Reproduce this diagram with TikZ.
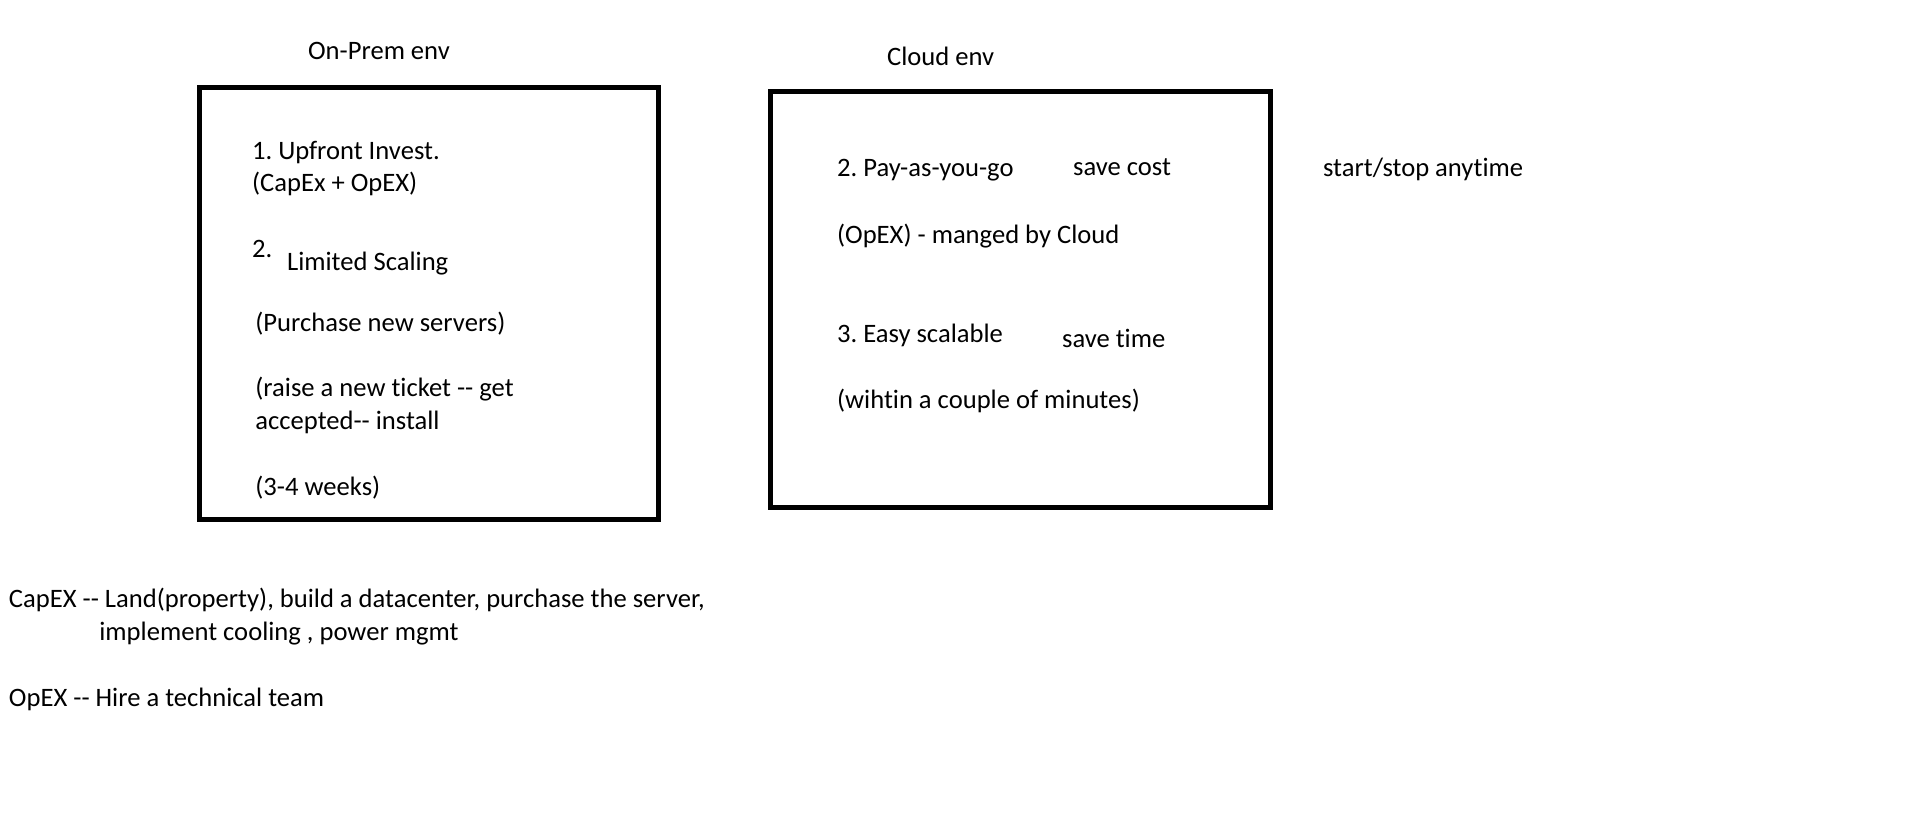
\documentclass[tikz,border=0pt]{standalone}
\usepackage{fontspec}
\setmainfont{Carlito}[Ligatures={TeXOff,NoCommon}]

\begin{document}
\frenchspacing
\begin{tikzpicture}[x=0.5pt, y=-0.5pt,
    txt/.style={anchor=base west, inner sep=0pt, font=\fontsize{13.3}{16.2}\selectfont},
    envbox/.style={draw, line width=2.35pt}]
  \useasboundingbox (0,0) rectangle (1911,820);
  % titles
  \node[txt] (onpremtitle) at (307.7,59.3) {On-Prem env};
  \node[txt] (cloudtitle) at (886.7,65.7) {Cloud env};
  % on-prem box
  \draw[envbox] (199.7,87.5) rectangle (658.3,519.5);
  \node[txt] (upfront) at (251.7,159.3) {1. Upfront Invest.};
  \node[txt] (capexopex) at (251.7,191.7) {(CapEx + OpEX)};
  \node[txt] (two) at (251.7,257.7) {2.};
  \node[txt] (limited) at (286.7,270) {Limited Scaling};
  \node[txt] (purchase) at (255,331) {(Purchase new servers)};
  \node[txt] (ticket) at (255,396) {(raise a new ticket -- get};
  \node[txt] (accepted) at (255,429.3) {accepted-- install};
  \node[txt] (weeks) at (255,495) {(3-4 weeks)};
  % cloud box
  \draw[envbox] (770.8,91.8) rectangle (1270.5,507.7);
  \node[txt] (payg) at (836.7,176.7) {2. Pay-as-you-go};
  \node[txt] (savecost) at (1072.7,175.5) {save cost};
  \node[txt] (managed) at (836.7,243.3) {(OpEX) - manged by Cloud};
  \node[txt] (easy) at (836.7,342.7) {3. Easy scalable};
  \node[txt] (savetime) at (1061.7,347.3) {save time};
  \node[txt] (minutes) at (836.7,408.3) {(wihtin a couple of minutes)};
  \node[txt] (startstop) at (1322.7,176) {start/stop anytime};
  % notes below
  \node[txt] (capexnote) at (8.6,607.7) {CapEX -- Land(property), build a datacenter, purchase the server,};
  \node[txt] (capexnote2) at (99,640) {implement cooling , power mgmt};
  \node[txt] (opexnote) at (8.6,706.7) {OpEX -- Hire a technical team};
\end{tikzpicture}
\end{document}
